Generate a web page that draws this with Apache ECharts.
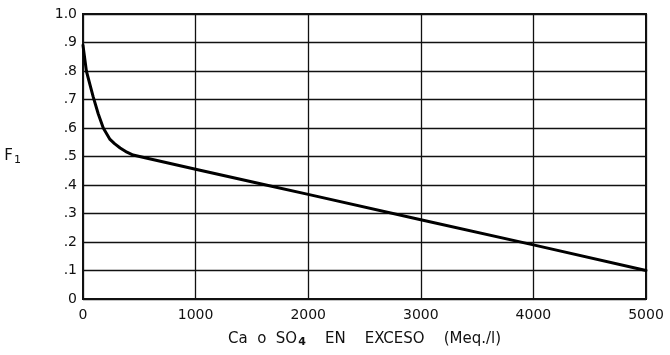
<!DOCTYPE html>
<html>
<head>
<meta charset="utf-8">
<script src="https://cdn.jsdelivr.net/npm/echarts@6/dist/echarts.min.js"></script>
<style>
  html, body { margin: 0; padding: 0; background: #fff; }
  #chart { width: 670px; height: 355px; }
</style>
</head>
<body>
<div id="chart"></div>
<script>
// Excess Ca or SO4 concentration (Meq./l) and the corresponding F1 factor
const excessMeq = [0, 30, 60, 90, 135, 180, 240, 280, 330, 390, 445, 560, 1000, 1625, 2000, 3000, 4000, 5000];
const f1Values  = [0.89, 0.80, 0.755, 0.71, 0.65, 0.60, 0.56, 0.545, 0.53, 0.515, 0.505, 0.495, 0.455, 0.40, 0.367, 0.278, 0.19, 0.10];

// Axis tick labels
const xTickLabels = { 0: '0', 1000: '1000', 2000: '2000', 3000: '3000', 4000: '4000', 5000: '5000' };
const yTickLabels = ['0', '.1', '.2', '.3', '.4', '.5', '.6', '.7', '.8', '.9', '1.0'];

const FONT = 'DejaVu Sans';
const INK = '#111';

const chart = echarts.init(document.getElementById('chart'), null, { renderer: 'canvas' });

chart.setOption({
  backgroundColor: '#fff',
  animation: false,
  grid: {
    left: 83, right: 24, top: 14, bottom: 56,
    show: true, borderColor: INK, borderWidth: 2, backgroundColor: 'transparent'
  },
  xAxis: {
    type: 'value',
    min: 0, max: 5000, interval: 1000,
    name: '{t|Ca  o  SO}{s|4}{t|    EN    EXCESO    (Meq./l)}',
    nameLocation: 'middle',
    nameGap: 32,
    nameTextStyle: {
      rich: {
        t: { fontFamily: FONT, fontSize: 15, color: INK },
        s: { fontFamily: FONT, fontSize: 11, fontWeight: 'bold', color: INK, verticalAlign: 'bottom', padding: [6, 0, 0, 1] }
      }
    },
    axisLine: { show: true, lineStyle: { color: INK, width: 2 } },
    axisTick: { show: false },
    axisLabel: {
      fontFamily: FONT, fontSize: 14, color: INK, margin: 9,
      formatter: v => xTickLabels[v] !== undefined ? xTickLabels[v] : ''
    },
    splitLine: { show: true, lineStyle: { color: INK, width: 1.3 } }
  },
  yAxis: {
    type: 'value',
    min: 0, max: 1, interval: 0.1,
    name: '{t|F}{s|1}',
    nameLocation: 'middle',
    nameRotate: 0,
    nameGap: 62,
    nameTextStyle: {
      align: 'right',
      rich: {
        t: { fontFamily: FONT, fontSize: 15, color: INK },
        s: { fontFamily: FONT, fontSize: 11, color: INK, verticalAlign: 'bottom', padding: [8, 0, 0, 1] }
      }
    },
    axisLine: { show: true, lineStyle: { color: INK, width: 2 } },
    axisTick: { show: false },
    axisLabel: {
      fontFamily: FONT, fontSize: 14, color: INK, margin: 6,
      formatter: v => yTickLabels[Math.round(v * 10)]
    },
    splitLine: { show: true, lineStyle: { color: INK, width: 1.3 } }
  },
  series: [{
    type: 'line',
    data: excessMeq.map((x, i) => [x, f1Values[i]]),
    smooth: false,
    showSymbol: false,
    lineStyle: { color: '#000', width: 3, join: 'round', cap: 'round' },
    z: 5
  }]
});
</script>
</body>
</html>
